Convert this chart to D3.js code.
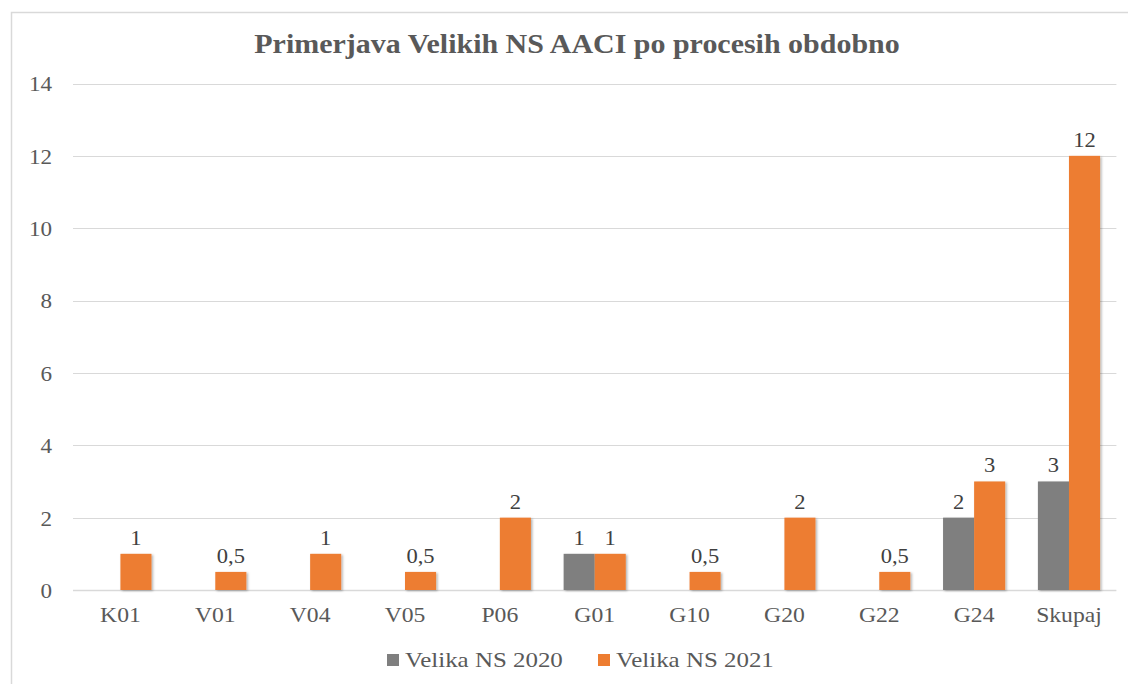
<!DOCTYPE html>
<html>
<head>
<meta charset="utf-8">
<script src="https://cdn.jsdelivr.net/npm/d3@7"></script>
<style>
  html, body { margin: 0; padding: 0; background: #fff; }
  svg { display: block; }
</style>
</head>
<body>
<svg id="chart" width="1128" height="684"></svg>
<script>
const categories = ["K01", "V01", "V04", "V05", "P06", "G01", "G10", "G20", "G22", "G24", "Skupaj"];
const seriesNames = ["Velika NS 2020", "Velika NS 2021"];
const values2020 = [null, null, null, null, null, 1, null, null, null, 2, 3];
const values2021 = [1, 0.5, 1, 0.5, 2, 1, 0.5, 2, 0.5, 3, 12];
const yTicks = [0, 2, 4, 6, 8, 10, 12, 14];
const colors = ["#7f7f7f", "#ed7d31"];
const titleText = "Primerjava Velikih NS AACI po procesih obdobno";

(function () {
const FONT = '"Liberation Serif"';
const svg = d3.select("#chart").attr("font-family", "Liberation Serif");

const defs = svg.append("defs");
const f = defs.append("filter").attr("id", "shadow").attr("x", "-20%").attr("y", "-20%").attr("width", "150%").attr("height", "150%");
f.append("feDropShadow").attr("dx", 1.5).attr("dy", 1).attr("stdDeviation", 1.2).attr("flood-color", "#000").attr("flood-opacity", 0.3);

// outer border
svg.append("rect").attr("x", 11.5).attr("y", 12.5).attr("width", 1140).attr("height", 700)
  .attr("fill", "none").attr("stroke", "#d9d9d9").attr("stroke-width", 1.5);

const pLeft = 73, pRight = 1116.4, pTop = 83.5, pBottom = 590;

const x0 = d3.scaleBand().domain(categories).range([pLeft, pRight]).padding(0);
const groupW = x0.bandwidth() * 0.655;
const x1 = d3.scaleBand().domain(seriesNames).range([0, groupW]).padding(0);
const y = d3.scaleLinear().domain([0, 14]).range([pBottom, pTop]);

// gridlines
svg.append("g").selectAll("line").data(yTicks).join("line")
  .attr("x1", pLeft).attr("x2", pRight)
  .attr("y1", d => Math.round(y(d)) + 0.5).attr("y2", d => Math.round(y(d)) + 0.5)
  .attr("stroke", "#d9d9d9").attr("stroke-width", d => d === 0 ? 1.5 : 1.2);

// y axis labels
const yAxis = d3.axisLeft(y).tickValues(yTicks).tickSize(0).tickPadding(0).tickFormat(d3.format("d"));
const yg = svg.append("g").attr("transform", `translate(52,0)`).call(yAxis);
yg.attr("font-family", "Liberation Serif").attr("font-size", 21);
yg.select(".domain").remove();
yg.selectAll("text").style("font-family", FONT).style("font-size", "21px").style("fill", "#595959")
  .attr("dy", "0.35em").attr("transform", "scale(1.1,1)");

// x axis labels
const xAxis = d3.axisBottom(x0).tickSize(0).tickPadding(0);
const xg = svg.append("g").attr("transform", `translate(0,${pBottom + 17})`).call(xAxis);
xg.attr("font-family", "Liberation Serif").attr("font-size", 21);
xg.select(".domain").remove();
xg.selectAll("text").style("font-family", FONT).style("font-size", "21.5px").style("fill", "#595959")
  .attr("dy", "0.71em").attr("transform", "scale(1.1,1)");

// bars
const allSeries = [values2020, values2021];
const barData = [];
categories.forEach((c, i) => {
  allSeries.forEach((vals, s) => {
    if (vals[i] !== null) barData.push({ cat: c, series: seriesNames[s], s, v: vals[i] });
  });
});
const offset = (x0.bandwidth() - groupW) / 2;
svg.append("g").selectAll("rect").data(barData).join("rect")
  .attr("x", d => x0(d.cat) + offset + x1(d.series))
  .attr("y", d => y(d.v))
  .attr("width", x1.bandwidth())
  .attr("height", d => y(0) - y(d.v))
  .attr("fill", d => colors[d.s])
  .attr("filter", "url(#shadow)");

// data labels
const fmt = v => String(v).replace(".", ",");
svg.append("g").selectAll("text").data(barData).join("text")
  .attr("transform", d => `translate(${x0(d.cat) + offset + x1(d.series) + x1.bandwidth() / 2},${y(d.v) - 9}) scale(1.1,1)`)
  .attr("text-anchor", "middle")
  .style("font-family", FONT)
  .style("font-size", "20.5px")
  .style("fill", "#404040")
  .text(d => fmt(d.v));

// title
svg.append("text").attr("transform", "translate(577,53) scale(1.11,1)").attr("text-anchor", "middle")
  .style("font-family", FONT)
  .style("font-size", "27px").style("font-weight", "bold").style("fill", "#595959")
  .text(titleText);

// legend
const legendItems = [{ name: seriesNames[0], x: 387 }, { name: seriesNames[1], x: 598 }];
const lg = svg.append("g");
legendItems.forEach((it, i) => {
  lg.append("rect").attr("x", it.x).attr("y", 654).attr("width", 12).attr("height", 12).attr("fill", colors[i]);
  lg.append("text").attr("transform", `translate(${it.x + 18},667) scale(1.16,1)`)
    .style("font-family", FONT).style("font-size", "21.5px").style("fill", "#595959").text(it.name);
});
})();
</script>
</body>
</html>
